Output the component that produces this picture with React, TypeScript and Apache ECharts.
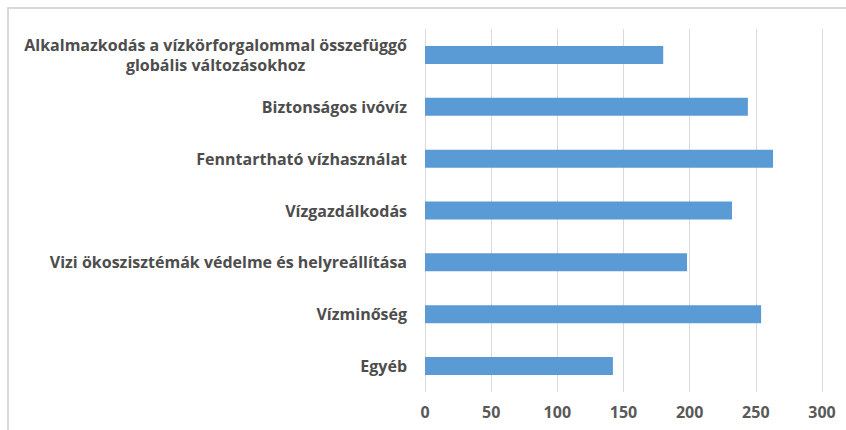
import React, { useEffect, useRef } from "react";
import * as echarts from "echarts";

const categories: string[] = [
  "Alkalmazkodás a vízkörforgalommal összefüggő\nglobális változásokhoz",
  "Biztonságos ivóvíz",
  "Fenntartható vízhasználat",
  "Vízgazdálkodás",
  "Vizi ökoszisztémák védelme és helyreállítása",
  "Vízminőség",
  "Egyéb",
];
const values: number[] = [180, 244, 263, 232, 198, 254, 142];
const xTicks: number[] = [0, 50, 100, 150, 200, 250, 300];

export default function App() {
  const ref = useRef<HTMLDivElement>(null);
  useEffect(() => {
    if (!ref.current) return;
    const chart = echarts.init(ref.current, null, { renderer: "svg" });
    const catsRev = [...categories].reverse();
    const valsRev = [...values].reverse();
    const font = "Open Sans";
    chart.setOption({
      animation: false,
      backgroundColor: "#ffffff",
      graphic: [
        {
          type: "rect",
          shape: { x: 8, y: 8, width: 900, height: 500 },
          style: { fill: "none", stroke: "#d9d9d9", lineWidth: 2 },
          silent: true,
          z: 100,
        },
      ],
      grid: { left: 425, right: 24, top: 29, bottom: 38, containLabel: false },
      xAxis: {
        type: "value",
        min: xTicks[0],
        max: xTicks[xTicks.length - 1],
        interval: 50,
        axisLine: { show: false },
        axisTick: { show: false },
        splitLine: { show: true, lineStyle: { color: "#d9d9d9", width: 1 } },
        axisLabel: {
          color: "#595959",
          fontFamily: font,
          fontWeight: "bold",
          fontSize: 16,
          margin: 12,
        },
      },
      yAxis: {
        type: "category",
        data: catsRev,
        axisLine: { show: false },
        axisTick: { show: false },
        splitLine: { show: false },
        axisLabel: {
          color: "#4d4d4d",
          fontFamily: font,
          fontWeight: "bold",
          fontSize: 16,
          margin: 18,
          lineHeight: 20,
          formatter: (v: string) =>
            v
              .split("\n")
              .map((l) => `{c|${l}}`)
              .join("\n"),
          rich: {
            c: {
              align: "center",
              color: "#4d4d4d",
              fontFamily: font,
              fontWeight: "bold",
              fontSize: 16,
              lineHeight: 20,
            },
          },
        },
      },
      series: [
        {
          type: "bar",
          data: valsRev,
          barWidth: 18,
          itemStyle: { color: "#5b9bd5" },
        },
      ],
    });
    return () => chart.dispose();
  }, []);
  return (
    <div
      ref={ref}
      style={{ position: "fixed", left: 0, top: 0, width: 846, height: 430 }}
    />
  );
}
